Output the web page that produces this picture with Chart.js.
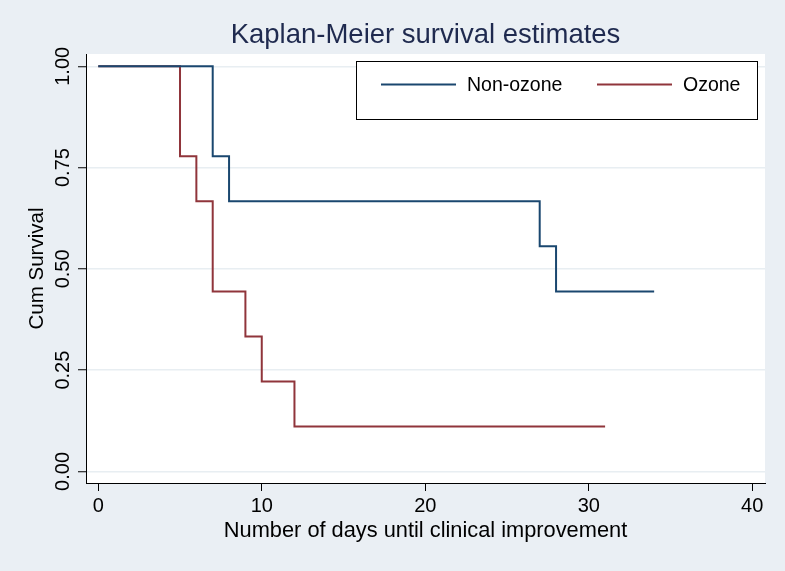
<!DOCTYPE html>
<html lang="en">
<head>
  <meta charset="UTF-8">
  <title>Kaplan-Meier survival estimates</title>
  <style>
    body { margin: 0; background: #eaeff4; }
    #wrap { width: 785px; height: 571px; }
  </style>
  <script src="https://cdn.jsdelivr.net/npm/chart.js"></script>
</head>
<body>
  <div id="wrap"><canvas id="km" width="785" height="571"></canvas></div>
  <script>
    // survival steps
    const nonOzoneDays = [0, 7, 8, 27, 28, 34];
    const nonOzoneSurv = [1, 0.778, 0.667, 0.556, 0.444, 0.444];
    const ozoneDays = [0, 5, 6, 7, 9, 10, 12, 31];
    const ozoneSurv = [1, 0.778, 0.667, 0.444, 0.333, 0.222, 0.111, 0.111];

    const xTicks = [0, 10, 20, 30, 40];
    const yTicks = [0, 0.25, 0.5, 0.75, 1];
    const yTickLabels = ['0.00', '0.25', '0.50', '0.75', '1.00'];

    const FONT = '"Liberation Sans", Arial, sans-serif';

    const toPoints = (xs, ys) => xs.map((x, i) => ({ x: x, y: ys[i] }));

    // white plot region
    const plotBg = {
      id: 'plotBg',
      beforeDraw(chart) {
        const a = chart.chartArea, ctx = chart.ctx;
        ctx.save();
        ctx.fillStyle = '#ffffff';
        ctx.fillRect(a.left, a.top, a.right - a.left, a.bottom - a.top);
        ctx.restore();
      }
    };

    // rotated y tick labels + boxed legend (Stata look)
    const extras = {
      id: 'extras',
      afterDraw(chart) {
        const ctx = chart.ctx;
        const ys = chart.scales.y;
        ctx.save();
        ctx.fillStyle = '#000';
        ctx.font = '20px ' + FONT;
        ctx.textAlign = 'center';
        ctx.textBaseline = 'alphabetic';
        yTicks.forEach((v, i) => {
          ctx.save();
          ctx.translate(68.5, ys.getPixelForValue(v));
          ctx.rotate(-Math.PI / 2);
          ctx.fillText(yTickLabels[i], 0, 0);
          ctx.restore();
        });

        // legend box
        const bx = 356, by = 61, bw = 401, bh = 58;
        ctx.fillStyle = '#fff';
        ctx.fillRect(bx, by, bw, bh);
        ctx.strokeStyle = '#000';
        ctx.lineWidth = 1;
        ctx.strokeRect(bx + 0.5, by + 0.5, bw, bh);
        const items = [
          { x: 381, tx: 467 },
          { x: 597, tx: 683 }
        ];
        ctx.font = '19.5px ' + FONT;
        ctx.textAlign = 'left';
        ctx.textBaseline = 'middle';
        chart.data.datasets.forEach((ds, i) => {
          const it = items[i];
          ctx.strokeStyle = ds.borderColor;
          ctx.lineWidth = 2;
          ctx.beginPath();
          ctx.moveTo(it.x, 84.5);
          ctx.lineTo(it.x + 75, 84.5);
          ctx.stroke();
          ctx.fillStyle = '#000';
          ctx.fillText(ds.label, it.tx, 86);
        });
        ctx.restore();
      }
    };

    new Chart(document.getElementById('km'), {
      type: 'line',
      data: {
        datasets: [
          {
            label: 'Non-ozone',
            data: toPoints(nonOzoneDays, nonOzoneSurv),
            borderColor: '#1a476f',
            borderWidth: 2,
            stepped: true,
            pointRadius: 0,
            fill: false
          },
          {
            label: 'Ozone',
            data: toPoints(ozoneDays, ozoneSurv),
            borderColor: '#90353b',
            borderWidth: 2,
            stepped: true,
            pointRadius: 0,
            fill: false
          }
        ]
      },
      options: {
        responsive: false,
        animation: false,
        layout: { padding: { left: 0, right: 20, top: 0, bottom: 0 } },
        plugins: {
          legend: { display: false },
          tooltip: { enabled: false },
          title: {
            display: true,
            text: 'Kaplan-Meier survival estimates',
            color: '#1f2a4f',
            fullSize: false,
            font: { family: FONT, size: 27.5, weight: 'normal', lineHeight: 1.2 },
            padding: { top: 19, bottom: 2 }
          }
        },
        scales: {
          x: {
            type: 'linear',
            min: -0.75,
            max: 40.78,
            afterBuildTicks(s) { s.ticks = xTicks.map(v => ({ value: v })); },
            afterFit(s) { s.height = 88; },
            ticks: {
              color: '#000',
              font: { family: FONT, size: 20 },
              padding: 3,
              maxRotation: 0
            },
            grid: {
              drawOnChartArea: false,
              tickColor: '#000',
              tickLength: 8,
              tickWidth: 1
            },
            border: { display: true, color: '#000', width: 1 },
            title: {
              display: true,
              text: 'Number of days until clinical improvement',
              color: '#000',
              font: { family: FONT, size: 21.8 },
              padding: { top: 0, bottom: 27 }
            }
          },
          y: {
            type: 'linear',
            min: -0.0286,
            max: 1.0304,
            afterBuildTicks(s) { s.ticks = yTicks.map(v => ({ value: v })); },
            afterFit(s) { s.width = 86; },
            ticks: { display: false },
            grid: {
              color: '#e8eef2',
              lineWidth: 1.5,
              tickColor: '#000',
              tickLength: 8,
              tickWidth: 1
            },
            border: { display: true, color: '#000', width: 1 },
            title: {
              display: true,
              text: 'Cum Survival',
              color: '#000',
              font: { family: FONT, size: 20.5 },
              padding: { top: 25, bottom: 0 }
            }
          }
        }
      },
      plugins: [plotBg, extras]
    });
  </script>
</body>
</html>
